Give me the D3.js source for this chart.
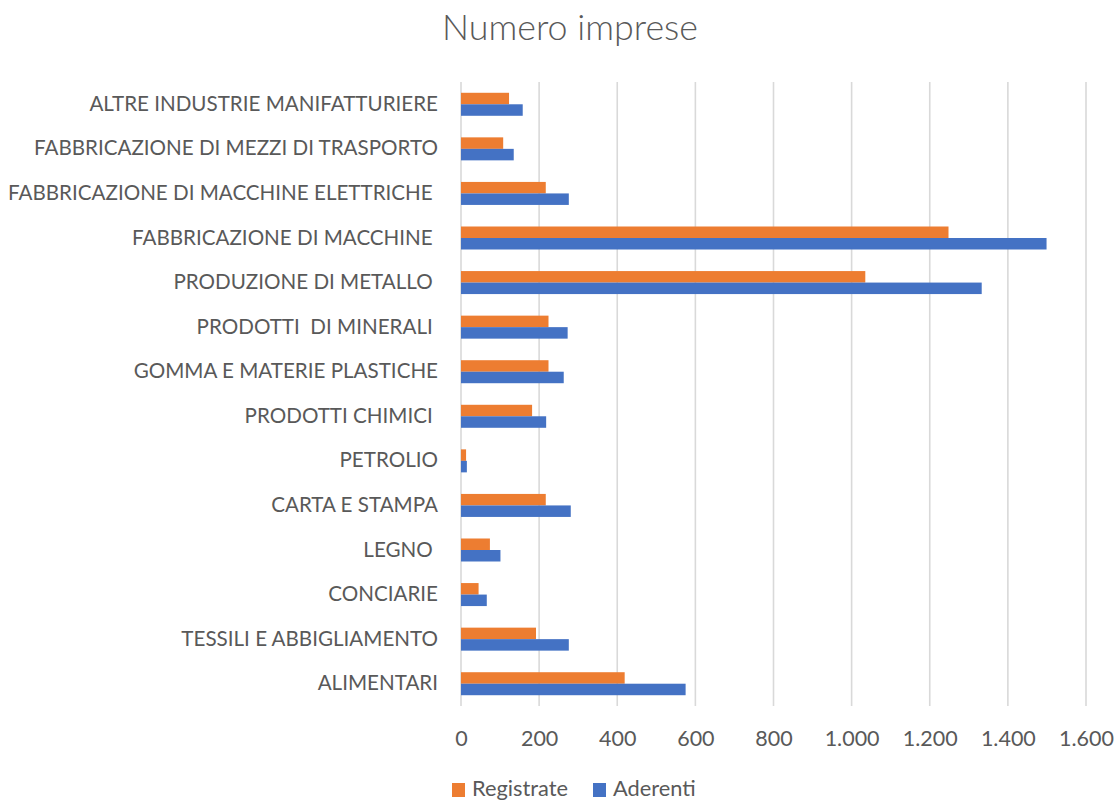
<!DOCTYPE html>
<html>
<head>
<meta charset="utf-8">
<script src="https://cdn.jsdelivr.net/npm/d3@7"></script>
<style>
  body { margin: 0; background: #fff; }
  svg { display: block; }
  text { font-family: Lato, "Open Sans", sans-serif; fill: #595959; }
</style>
</head>
<body>
<svg id="chart" width="1117" height="800"></svg>
<script>
const categories = [
  "ALTRE INDUSTRIE MANIFATTURIERE",
  "FABBRICAZIONE DI MEZZI DI TRASPORTO",
  "FABBRICAZIONE DI MACCHINE ELETTRICHE ",
  "FABBRICAZIONE DI MACCHINE ",
  "PRODUZIONE DI METALLO ",
  "PRODOTTI  DI MINERALI ",
  "GOMMA E MATERIE PLASTICHE",
  "PRODOTTI CHIMICI ",
  "PETROLIO",
  "CARTA E STAMPA",
  "LEGNO ",
  "CONCIARIE",
  "TESSILI E ABBIGLIAMENTO",
  "ALIMENTARI"
];
const registrate = [123, 108, 217, 1248, 1035, 224, 224, 182, 13, 217, 74, 45, 192, 419];
const aderenti   = [158, 135, 276, 1499, 1333, 273, 263, 218, 15, 281, 101, 66, 276, 575];
const seriesNames = ["Registrate", "Aderenti"];
const seriesColors = ["#ED7D31", "#4472C4"];
const xTicks = [0, 200, 400, 600, 800, 1000, 1200, 1400, 1600];
const title = "Numero imprese";

const svg = d3.select("#chart");
const fmt = d3.formatLocale({decimal: ",", thousands: ".", grouping: [3], currency: ["€", ""]}).format(",d");

const x = d3.scaleLinear().domain([0, 1600]).range([461, 1086]);
const y = d3.scaleBand().domain(categories).range([82, 706]).paddingInner(0.484).paddingOuter(0.242);
const sub = d3.scaleBand().domain(seriesNames).range([0, y.bandwidth()]);

// gridlines
svg.append("g").selectAll("line").data(xTicks).join("line")
  .attr("x1", d => x(d)).attr("x2", d => x(d))
  .attr("y1", 82).attr("y2", 706)
  .attr("stroke", "#d9d9d9").attr("stroke-width", 1.6);

// x axis labels
const xAxis = d3.axisBottom(x).tickValues(xTicks).tickFormat(fmt).tickSize(0).tickPadding(0);
const gx = svg.append("g").attr("transform", "translate(0,731)").call(xAxis);
gx.select(".domain").remove();
gx.selectAll("text").attr("font-size", 21.5).style("font-family", "Lato, 'Open Sans', sans-serif").attr("fill", "#595959");

// y labels
const yAxis = d3.axisLeft(y).tickSize(0).tickPadding(0);
const gy = svg.append("g").attr("transform", "translate(438,0)").call(yAxis);
gy.select(".domain").remove();
gy.selectAll("text").attr("font-size", 20.6).style("font-family", "Lato, 'Open Sans', sans-serif")
  .style("white-space", "pre").attr("fill", "#595959");

// bars
const data = categories.map((c, i) => ({cat: c, vals: [registrate[i], aderenti[i]]}));
const groups = svg.append("g").selectAll("g").data(data).join("g")
  .attr("transform", d => `translate(0,${y(d.cat)})`);
groups.selectAll("rect").data(d => d.vals.map((v, j) => ({v, s: seriesNames[j], c: seriesColors[j]})))
  .join("rect")
  .attr("x", x(0))
  .attr("y", d => sub(d.s))
  .attr("width", d => x(d.v) - x(0))
  .attr("height", sub.bandwidth())
  .attr("fill", d => d.c);

// title
svg.append("text").attr("x", 570).attr("y", 40).attr("text-anchor", "middle")
  .attr("font-size", 35.8).attr("font-weight", 300).text(title);

// legend
const legend = svg.append("g");
const legX = [452, 593];
seriesNames.forEach((s, i) => {
  legend.append("rect").attr("x", legX[i]).attr("y", 783).attr("width", 13).attr("height", 14).attr("fill", seriesColors[i]);
  legend.append("text").attr("x", legX[i] + 20).attr("y", 796).attr("font-size", 21.8).text(s);
});
</script>
</body>
</html>
